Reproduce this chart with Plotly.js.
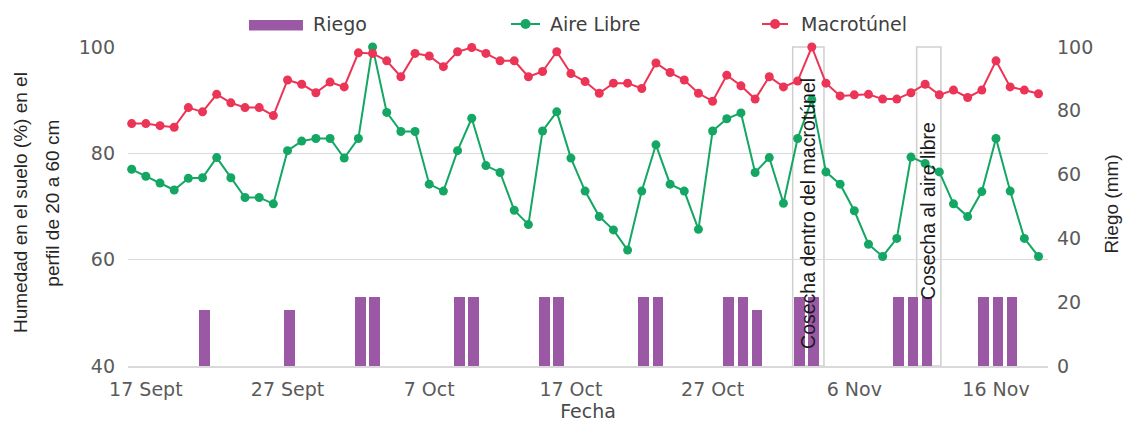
<!DOCTYPE html>
<html>
<head>
<meta charset="utf-8">
<script src="https://cdn.plot.ly/plotly-3.0.1.min.js"></script>
<style>html,body{margin:0;padding:0;background:#fff;}#chart{width:1124px;height:422px;}</style>
</head>
<body>
<div id="chart"></div>
<script>
// ---- Data ----
const fechaInicio = [2022, 8, 16]; // 16 Sept, one reading per day

const aireLibre = [
  77.0, 75.7, 74.4, 73.1, 75.3, 75.4, 79.2, 75.4, 71.7, 71.7,
  70.5, 80.5, 82.3, 82.8, 82.8, 79.1, 82.8, 100.0, 87.7, 84.1,
  84.1, 74.2, 72.9, 80.5, 86.6, 77.7, 76.4, 69.3, 66.6, 84.2,
  87.8, 79.1, 72.9, 68.1, 65.6, 61.8, 72.9, 81.6, 74.2, 72.9,
  65.7, 84.2, 86.5, 87.6, 76.4, 79.2, 70.6, 82.8, 90.1, 76.5,
  74.2, 69.2, 62.9, 60.6, 64.0, 79.3, 78.1, 76.5, 70.5, 68.1,
  72.8, 82.8, 72.9, 64.0, 60.6
];

const macrotunel = [
  85.6, 85.6, 85.2, 84.9, 88.6, 87.8, 91.1, 89.5, 88.6, 88.6,
  87.1, 93.8, 93.0, 91.4, 93.4, 92.5, 98.9, 98.8, 97.4, 94.4,
  98.8, 98.3, 96.3, 99.1, 99.9, 98.8, 97.4, 97.4, 94.4, 95.4,
  99.1, 95.0, 93.5, 91.3, 93.2, 93.2, 92.2, 97.0, 95.2, 93.8,
  91.3, 89.8, 94.7, 92.7, 90.2, 94.4, 92.5, 93.6, 100.0, 93.2,
  90.8, 91.0, 91.1, 90.2, 90.2, 91.4, 93.0, 91.0, 91.9, 90.5,
  91.9, 97.4, 92.5, 91.9, 91.2
];

const riegoFechas = [
  '2022-09-21', '2022-09-27', '2022-10-02', '2022-10-03', '2022-10-09',
  '2022-10-10', '2022-10-15', '2022-10-16', '2022-10-22', '2022-10-23',
  '2022-10-28', '2022-10-29', '2022-10-30', '2022-11-02', '2022-11-03',
  '2022-11-09', '2022-11-10', '2022-11-11', '2022-11-15', '2022-11-16',
  '2022-11-17'
];
const riegoMm = [
  17.5, 17.5, 21.5, 21.5, 21.5,
  21.5, 21.5, 21.5, 21.5, 21.5,
  21.5, 21.5, 17.5, 21.5, 21.5,
  21.5, 21.5, 21.5, 21.5, 21.5,
  21.5
];

const tickFechas = ['2022-09-17', '2022-09-27', '2022-10-07', '2022-10-17', '2022-10-27', '2022-11-06', '2022-11-16'];
const tickTextos = ['17 Sept', '27 Sept', '7 Oct', '17 Oct', '27 Oct', '6 Nov', '16 Nov'];

const cosechaTextos = ['Cosecha dentro del macrotúnel', 'Cosecha al aire libre'];

// ---- Build dates ----
const fechas = aireLibre.map((_, i) => {
  const d = new Date(Date.UTC(fechaInicio[0], fechaInicio[1], fechaInicio[2] + i));
  return d.toISOString().slice(0, 10);
});

const DAY = 86400000;
const VERDE = '#13a763';
const ROJO = '#ec3456';
const MORADO = '#9b58a5';
const GRIS_TICK = '#5a5a5a';
const FONT_T = 'DejaVu Sans';
const FONT_A = 'Liberation Sans, Arial, sans-serif';

const traces = [
  {
    type: 'bar', name: 'Riego', x: riegoFechas, y: riegoMm, yaxis: 'y2',
    marker: {color: MORADO, line: {width: 0}},
    width: 0.75 * DAY, offset: -0.24 * DAY,
    hoverinfo: 'x+y'
  },
  {
    type: 'scatter', mode: 'lines+markers', name: 'Aire Libre', x: fechas, y: aireLibre,
    line: {color: VERDE, width: 2}, marker: {color: VERDE, size: 9}, cliponaxis: false
  },
  {
    type: 'scatter', mode: 'lines+markers', name: 'Macrotúnel', x: fechas, y: macrotunel,
    line: {color: ROJO, width: 2}, marker: {color: ROJO, size: 9}, cliponaxis: false
  }
];

// plot area in px: left 128, right 1048, top 47, bottom 366
const shapes = [
  // harvest text boxes (vertical borders)
  {type: 'rect', xref: 'x', yref: 'paper', x0: '2022-11-01 15:36', x1: '2022-11-03 20:38', y0: 0, y1: 1,
   line: {color: '#cfcfcf', width: 1.5}, fillcolor: 'rgba(0,0,0,0)', layer: 'below'},
  {type: 'rect', xref: 'x', yref: 'paper', x0: '2022-11-10 09:36', x1: '2022-11-12 02:38', y0: 0, y1: 1,
   line: {color: '#cfcfcf', width: 1.5}, fillcolor: 'rgba(0,0,0,0)', layer: 'below'},
  // legend: Riego
  {type: 'rect', xref: 'paper', yref: 'paper', x0: 0.1315, x1: 0.1902, y0: 1.0517, y1: 1.0846,
   fillcolor: MORADO, line: {width: 0}},
  // legend: Aire Libre
  {type: 'line', xref: 'paper', yref: 'paper', x0: 0.4163, x1: 0.4478, y0: 1.0721, y1: 1.0721,
   line: {color: VERDE, width: 2}},
  {type: 'circle', xref: 'paper', yref: 'paper', xsizemode: 'pixel', ysizemode: 'pixel',
   xanchor: 0.4321, yanchor: 1.0721, x0: -5, x1: 5, y0: -5, y1: 5, fillcolor: VERDE, line: {width: 0}},
  // legend: Macrotunel
  {type: 'line', xref: 'paper', yref: 'paper', x0: 0.6891, x1: 0.7174, y0: 1.0721, y1: 1.0721,
   line: {color: ROJO, width: 2}},
  {type: 'circle', xref: 'paper', yref: 'paper', xsizemode: 'pixel', ysizemode: 'pixel',
   xanchor: 0.7033, yanchor: 1.0721, x0: -5, x1: 5, y0: -5, y1: 5, fillcolor: ROJO, line: {width: 0}}
];

const annotations = [
  {text: cosechaTextos[0], xref: 'x', yref: 'paper', x: '2022-11-02 16:34', y: 0.478, textangle: -90,
   showarrow: false, xanchor: 'center', yanchor: 'middle', font: {family: FONT_A, size: 19.5, color: '#1a1a1a'}},
  {text: cosechaTextos[1], xref: 'x', yref: 'paper', x: '2022-11-11 05:31', y: 0.4875, textangle: -90,
   showarrow: false, xanchor: 'center', yanchor: 'middle', font: {family: FONT_A, size: 19.5, color: '#1a1a1a'}},
  // y titles
  {text: 'Humedad en el suelo (%) en el', xref: 'paper', yref: 'paper', x: -0.1163, y: 0.511, textangle: -90,
   showarrow: false, xanchor: 'center', yanchor: 'middle', font: {family: FONT_A, size: 19, color: '#262626'}},
  {text: 'perfil de 20 a 60 cm', xref: 'paper', yref: 'paper', x: -0.0815, y: 0.509, textangle: -90,
   showarrow: false, xanchor: 'center', yanchor: 'middle', font: {family: FONT_A, size: 19, color: '#262626'}},
  {text: 'Riego (mm)', xref: 'paper', yref: 'paper', x: 1.0696, y: 0.506, textangle: -90,
   showarrow: false, xanchor: 'center', yanchor: 'middle', font: {family: FONT_A, size: 19, color: '#262626'}},
  // legend texts
  {text: 'Riego', xref: 'paper', yref: 'paper', x: 0.199, y: 1.0721, showarrow: false,
   xanchor: 'left', yanchor: 'middle', font: {family: FONT_T, size: 19, color: '#404040'}},
  {text: 'Aire Libre', xref: 'paper', yref: 'paper', x: 0.4565, y: 1.0721, showarrow: false,
   xanchor: 'left', yanchor: 'middle', font: {family: FONT_T, size: 19, color: '#404040'}},
  {text: 'Macrotúnel', xref: 'paper', yref: 'paper', x: 0.7293, y: 1.0721, showarrow: false,
   xanchor: 'left', yanchor: 'middle', font: {family: FONT_T, size: 19, color: '#404040'}}
];

const layout = {
  width: 1124, height: 422,
  margin: {l: 128, r: 76, t: 47, b: 56, pad: 0},
  paper_bgcolor: '#ffffff', plot_bgcolor: '#ffffff',
  showlegend: false,
  bargap: 0,
  xaxis: {
    type: 'date',
    range: ['2022-09-15 17:46', '2022-11-19 16:05'],
    tickmode: 'array', tickvals: tickFechas, ticktext: tickTextos,
    showgrid: false, zeroline: false,
    showline: true, linecolor: '#d9d9d9', linewidth: 1.5,
    ticks: '', ticklabelstandoff: 6,
    tickfont: {family: FONT_T, size: 19, color: GRIS_TICK},
    title: {text: 'Fecha', standoff: 4, font: {family: FONT_T, size: 19, color: '#4a4a4a'}}
  },
  yaxis: {
    range: [40, 100], tickmode: 'array', tickvals: [40, 60, 80, 100],
    showgrid: true, gridcolor: '#d9d9d9', gridwidth: 1.5,
    zeroline: false, showline: false, ticks: '', ticklabelstandoff: 12,
    tickfont: {family: FONT_T, size: 19, color: GRIS_TICK}
  },
  yaxis2: {
    overlaying: 'y', side: 'right',
    range: [0, 100], tickmode: 'array', tickvals: [0, 20, 40, 60, 80, 100],
    showgrid: false, zeroline: false, showline: false, ticks: '', ticklabelstandoff: 8,
    tickfont: {family: FONT_T, size: 19, color: GRIS_TICK}
  },
  shapes: shapes,
  annotations: annotations
};

Plotly.newPlot('chart', traces, layout, {displayModeBar: false, responsive: false, staticPlot: true});
</script>
</body>
</html>
